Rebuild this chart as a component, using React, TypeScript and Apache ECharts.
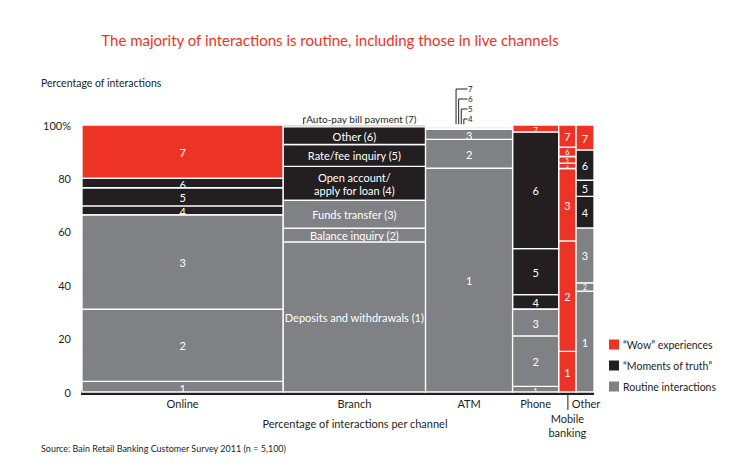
import React, { useEffect, useRef } from 'react';
import * as echarts from 'echarts';

const channels = ['Online', 'Branch', 'ATM', 'Phone', 'Mobile\nbanking', 'Other'];
const channelShare = [39.3, 27.8, 17.0, 9.0, 3.4, 3.5];

const interactionNames = [
  'Deposits and withdrawals (1)',
  'Balance inquiry (2)',
  'Funds transfer (3)',
  'Open account/\napply for loan (4)',
  'Rate/fee inquiry (5)',
  'Other (6)',
  'Auto-pay bill payment (7)',
];
const interactionNumbers = ['1', '2', '3', '4', '5', '6', '7'];

// share of each interaction type (1..7, bottom to top) within each channel
const onlineValues = [4, 27, 35.3, 3.4, 6.8, 3.5, 20];
const branchValues = [56.2, 5.2, 10.4, 12.7, 8.2, 6.6, 0.7];
const atmValues = [83.8, 10.8, 3.8, 0.4, 0.4, 0.4, 0.4];
const phoneValues = [2.1, 18.9, 10, 5.5, 17.2, 43.6, 2.7];
const mobileValues = [15.2, 41.4, 27.1, 2, 2.5, 3.5, 8.3];
const otherValues = [37.8, 3.1, 20.5, 11.9, 6, 11.3, 9.4];
const channelValues = [onlineValues, branchValues, atmValues, phoneValues, mobileValues, otherValues];

const seriesNames = ['\u201cWow\u201d experiences', '\u201cMoments of truth\u201d', 'Routine interactions'];
const seriesColors = ['#EC3326', '#231F20', '#808184'];
// tier index (into seriesNames) of each interaction per channel
const defaultTier = [2, 2, 2, 1, 1, 1, 0];
const mobileTier = [0, 0, 0, 0, 0, 0, 0];
const channelTiers = [defaultTier, defaultTier, defaultTier, defaultTier, mobileTier, defaultTier];
// label mode per channel: 'name' | 'number'; hidden labels listed separately
const channelLabelMode = ['number', 'name', 'number', 'number', 'number', 'number'];
const hiddenLabels: Record<number, number[]> = { 1: [6], 2: [3, 4, 5, 6] };

const yTicks = [0, 20, 40, 60, 80, 100];

const FONT = 'Lato, "Open Sans", sans-serif';

export default function App() {
  const ref = useRef<HTMLDivElement>(null);

  useEffect(() => {
    document.body.style.margin = '0';
    if (!ref.current) return;
    const chart = echarts.init(ref.current, null, { renderer: 'svg' });

    const tierData: number[][][] = [[], [], []];
    const tierLabels: string[][] = [[], [], []];
    let xCum = 0;
    const channelBounds: number[][] = [];
    channels.forEach((ch, c) => {
      const x0 = xCum;
      const x1 = xCum + channelShare[c];
      channelBounds.push([x0, x1]);
      let yCum = 0;
      channelValues[c].forEach((v, k) => {
        const tier = channelTiers[c][k];
        tierData[tier].push([x0, x1, yCum, yCum + v]);
        const hidden = (hiddenLabels[c] || []).includes(k);
        const txt = hidden ? '' : channelLabelMode[c] === 'name' ? interactionNames[k] : interactionNumbers[k];
        tierLabels[tier].push(txt);
        yCum += v;
      });
      xCum = x1;
    });
    const xMax = xCum;

    const series = seriesNames.map((name, t) => ({
      name,
      type: 'custom',
      itemStyle: { color: seriesColors[t] },
      encode: { x: [0, 1], y: [2, 3] },
      data: tierData[t],
      renderItem: (params: any, api: any) => {
        const x0 = api.value(0), x1 = api.value(1), y0 = api.value(2), y1 = api.value(3);
        const p0 = api.coord([x0, y0]);
        const p1 = api.coord([x1, y1]);
        const shape = { x: p0[0], y: p1[1], width: p1[0] - p0[0], height: p0[1] - p1[1] };
        const txt = tierLabels[t][params.dataIndex];
        const children: any[] = [
          {
            type: 'rect',
            shape,
            style: { fill: seriesColors[t], stroke: '#fff', lineWidth: 1.3 },
          },
        ];
        if (txt) {
          const small = shape.height < 12;
          const tight = shape.width < 25 && shape.height < 10;
          const fs = tight ? Math.max(4, shape.height * 0.8) : shape.height >= 9 ? 11 : Math.max(7, shape.height + 1);
          children.push({
            type: 'text',
            style: {
              x: shape.x + shape.width / 2,
              y: shape.y + shape.height / 2 + (small && !tight ? 1.5 : 0.5),
              text: txt,
              fill: '#fff',
              font: `${fs}px ${FONT}`,
              align: 'center',
              verticalAlign: 'middle',
              lineHeight: small ? Math.max(4, shape.height - 2) : 13,
            },
            clipPath: { type: 'rect', shape: { x: shape.x, y: shape.y + 1, width: shape.width, height: shape.height - 1 } },
          });
        }
        return { type: 'group', children };
      },
    }));

    chart.setOption({
      animation: false,
      grid: { left: 82, right: 156, top: 125, bottom: 81 },
      xAxis: { type: 'value', min: 0, max: xMax, show: false },
      yAxis: {
        type: 'value',
        min: 0,
        max: 100,
        interval: 20,
        splitLine: { show: false },
        axisLine: { show: false },
        axisTick: { show: false },
        axisLabel: {
          margin: 11,
          color: '#231F20',
          fontSize: 11,
          fontFamily: FONT,
          formatter: (v: number) => (yTicks.includes(v) ? (v === 100 ? '100%' : String(v)) : ''),
        },
      },
      legend: {
        orient: 'vertical',
        left: 609,
        top: 339,
        padding: 0,
        itemWidth: 10,
        itemHeight: 10,
        itemGap: 10,
        icon: 'rect',
        data: seriesNames,
        selectedMode: false,
        textStyle: { fontSize: 10.5, color: '#231F20', fontFamily: FONT, padding: [0, 0, 0, -1] },
      },
      series,
    });

    const px = (x: number) => chart.convertToPixel({ xAxisIndex: 0 }, x) as number;
    const py = (y: number) => chart.convertToPixel({ yAxisIndex: 0 }, y) as number;
    const yBase = py(0);
    const yTop = py(100);

    const graphics: any[] = [];
    graphics.push({
      type: 'rect',
      shape: { x: px(0) - 1, y: yBase - 1, width: px(xMax) - px(0) + 1, height: 4 },
      style: { fill: '#231F20' },
    });
    channels.forEach((ch, c) => {
      const cx = (px(channelBounds[c][0]) + px(channelBounds[c][1])) / 2;
      if (ch.includes('\n')) {
        graphics.push({
          type: 'line',
          shape: { x1: cx + 0.5, y1: yBase + 3, x2: cx + 0.5, y2: yBase + 18 },
          style: { stroke: '#231F20', lineWidth: 1 },
        });
        graphics.push({
          type: 'text',
          style: { x: cx, y: yBase + 19, text: ch, font: `11px ${FONT}`, fill: '#231F20', align: 'center', verticalAlign: 'top', lineHeight: 14 },
        });
      } else {
        graphics.push({
          type: 'text',
          style: { x: ch === 'Other' ? cx + 1 : cx, y: yBase + 6, text: ch, font: `11px ${FONT}`, fill: '#231F20', align: 'center', verticalAlign: 'top' },
        });
      }
    });
    const bLeft = px(channelBounds[1][0]);
    graphics.push({
      type: 'polyline',
      shape: { points: [[bLeft + 20.5, yTop], [bLeft + 20.5, yTop - 7], [bLeft + 23, yTop - 7]] },
      style: { stroke: '#231F20', lineWidth: 1, fill: 'none' },
    });
    graphics.push({
      type: 'text',
      style: { x: bLeft + 23, y: yTop - 6, text: interactionNames[6], font: `10px ${FONT}`, fill: '#231F20', align: 'left', verticalAlign: 'middle' },
    });
    const aLeft = px(channelBounds[2][0]);
    const atmCallouts = [6, 5, 4, 3];
    atmCallouts.forEach((k, i) => {
      const vx = aLeft + 30.5 + i * 2.6;
      const ly = yTop - 36 + i * 10;
      graphics.push({
        type: 'polyline',
        shape: { points: [[vx, yTop], [vx, ly], [aLeft + 42, ly]] },
        style: { stroke: '#231F20', lineWidth: 1, fill: 'none' },
      });
      graphics.push({
        type: 'text',
        style: { x: aLeft + 42.5, y: ly, text: interactionNumbers[k], font: `8px ${FONT}`, fill: '#231F20', align: 'left', verticalAlign: 'middle', lineHeight: 8 },
      });
    });
    graphics.push({
      type: 'text',
      style: { x: 330, y: 40, text: 'The majority of interactions is routine, including those in live channels', font: `15px ${FONT}`, fill: '#EC3326', align: 'center', verticalAlign: 'middle' },
    });
    graphics.push({
      type: 'text',
      style: { x: 41, y: 83, text: 'Percentage of interactions', font: `10.5px ${FONT}`, fill: '#231F20', align: 'left', verticalAlign: 'middle' },
    });
    graphics.push({
      type: 'text',
      style: { x: 355, y: 423, text: 'Percentage of interactions per channel', font: `11px ${FONT}`, fill: '#231F20', align: 'center', verticalAlign: 'middle' },
    });
    graphics.push({
      type: 'text',
      style: { x: 41, y: 448, text: 'Source: Bain Retail Banking Customer Survey 2011 (n = 5,100)', font: `9px ${FONT}`, fill: '#231F20', align: 'left', verticalAlign: 'middle' },
    });

    chart.setOption({ graphic: graphics });

    return () => chart.dispose();
  }, []);

  return <div ref={ref} style={{ width: 750, height: 473 }} />;
}
